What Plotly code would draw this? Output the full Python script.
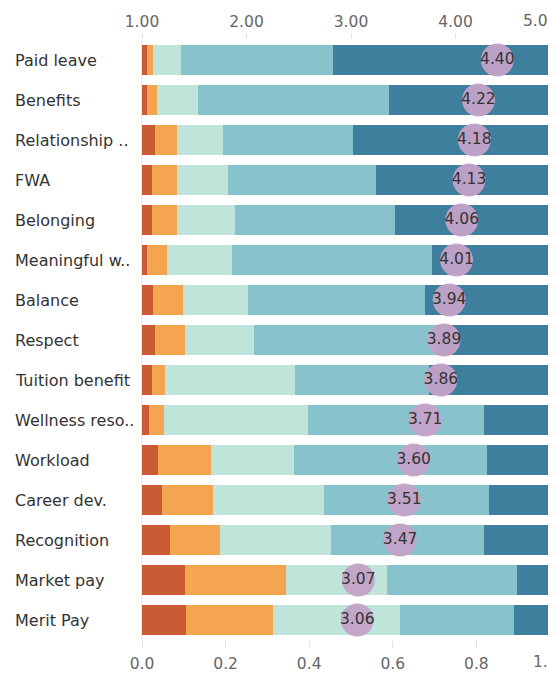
import plotly.graph_objects as go

categories = ["Paid leave", "Benefits", "Relationship ..", "FWA", "Belonging",
              "Meaningful w..", "Balance", "Respect", "Tuition benefit",
              "Wellness reso..", "Workload", "Career dev.", "Recognition",
              "Market pay", "Merit Pay"]

# share of responses per rating level (1 = lowest ... 5 = highest)
level1 = [0.013, 0.013, 0.030, 0.023, 0.023, 0.013, 0.027, 0.030, 0.023, 0.017, 0.038, 0.049, 0.066, 0.102, 0.105]
level2 = [0.014, 0.022, 0.053, 0.061, 0.061, 0.046, 0.071, 0.074, 0.032, 0.035, 0.128, 0.120, 0.121, 0.242, 0.209]
level3 = [0.067, 0.099, 0.110, 0.121, 0.138, 0.156, 0.156, 0.163, 0.312, 0.344, 0.198, 0.266, 0.266, 0.243, 0.304]
level4 = [0.362, 0.457, 0.311, 0.354, 0.383, 0.479, 0.422, 0.436, 0.319, 0.422, 0.462, 0.394, 0.365, 0.309, 0.273]
level5 = [0.544, 0.409, 0.496, 0.441, 0.395, 0.306, 0.324, 0.297, 0.314, 0.182, 0.174, 0.171, 0.182, 0.104, 0.109]

mean_scores = [4.40, 4.22, 4.18, 4.13, 4.06, 4.01, 3.94, 3.89, 3.86, 3.71, 3.60, 3.51, 3.47, 3.07, 3.06]

score_ticks = [1, 2, 3, 4, 5]
share_ticks = [0.0, 0.2, 0.4, 0.6, 0.8, 1.0]

colors = ["#c95b34", "#f5a550", "#bfe5db", "#88c2cc", "#3f7f9e"]
levels = [level1, level2, level3, level4, level5]

FONT = "DejaVu Sans"
TICKFONT = dict(family=FONT, size=15.5, color="#666666")

W, H = 548, 673
ML, MT, MB = 142, 40, 33
full_len = 418                      # pixel length of the 0..1 axis (runs past the window edge)
visible = (W - ML) / full_len       # visible fraction of the share axis
share_max = visible
score_min, score_max = 1, 5
score_visible_max = score_min + (score_max - score_min) * visible

fig = go.Figure()
for i, (vals, col) in enumerate(zip(levels, colors)):
    fig.add_trace(go.Bar(
        x=vals, y=categories, orientation="h",
        marker=dict(color=col, line=dict(width=0)),
        width=0.77, name=str(i + 1), showlegend=False,
        xaxis="x", yaxis="y",
    ))

fig.add_trace(go.Scatter(
    x=mean_scores, y=categories, mode="markers+text",
    marker=dict(size=33, color="rgba(196,162,200,0.95)", line=dict(width=0)),
    text=[f"{v:.2f}" for v in mean_scores],
    textposition="middle center",
    textfont=dict(family=FONT, size=15.5, color="#333333"),
    xaxis="x2", yaxis="y", showlegend=False, cliponaxis=False,
))

for c in categories:
    fig.add_annotation(
        x=-(ML - 13) / (W - ML), xref="paper", y=c, yref="y",
        text=c, showarrow=False, xanchor="left", yanchor="middle",
        font=dict(family=FONT, size=16, color="#333333"),
    )

# tick labels that fall past the right window edge (drawn partially, clipped by the page)
for v in share_ticks:
    if v > share_max:
        fig.add_annotation(x=v / share_max, xref="paper", y=0, yref="paper",
                           yanchor="top", yshift=-11, text=f"{v:.1f}",
                           showarrow=False, font=TICKFONT)
for v in score_ticks:
    if v > score_visible_max:
        fig.add_annotation(x=(v - score_min) / (score_visible_max - score_min), xref="paper",
                           y=1, yref="paper", yanchor="bottom", yshift=8,
                           text=f"{v:.2f}", showarrow=False, font=TICKFONT)

n = len(categories)
fig.update_layout(
    barmode="stack",
    width=W, height=H,
    margin=dict(l=ML, r=0, t=MT, b=MB),
    paper_bgcolor="white", plot_bgcolor="white",
    xaxis=dict(
        range=[0, share_max], tickvals=share_ticks, tickformat=".1f",
        showgrid=False, zeroline=False, showline=False,
        ticks="outside", ticklen=7, tickcolor="#e2e2e2",
        ticklabelstandoff=2,
        tickfont=TICKFONT, fixedrange=True,
    ),
    xaxis2=dict(
        range=[score_min, score_visible_max], tickvals=score_ticks, tickformat=".2f",
        overlaying="x", side="top", anchor="y",
        showgrid=False, zeroline=False, showline=False,
        ticks="outside", ticklen=6, tickcolor="#e2e2e2",
        tickfont=TICKFONT, fixedrange=True,
    ),
    yaxis=dict(
        categoryorder="array", categoryarray=categories,
        range=[n - 0.5, -0.5], showticklabels=False,
        showgrid=False, zeroline=False,
        showline=True, linecolor="#e6e6e6", linewidth=1,
        fixedrange=True,
    ),
)

fig.write_html(
    "out.html",
    config={"displayModeBar": False},
    post_script="document.body.style.margin='0';document.body.style.overflow='hidden';document.documentElement.style.overflow='hidden';",
)
